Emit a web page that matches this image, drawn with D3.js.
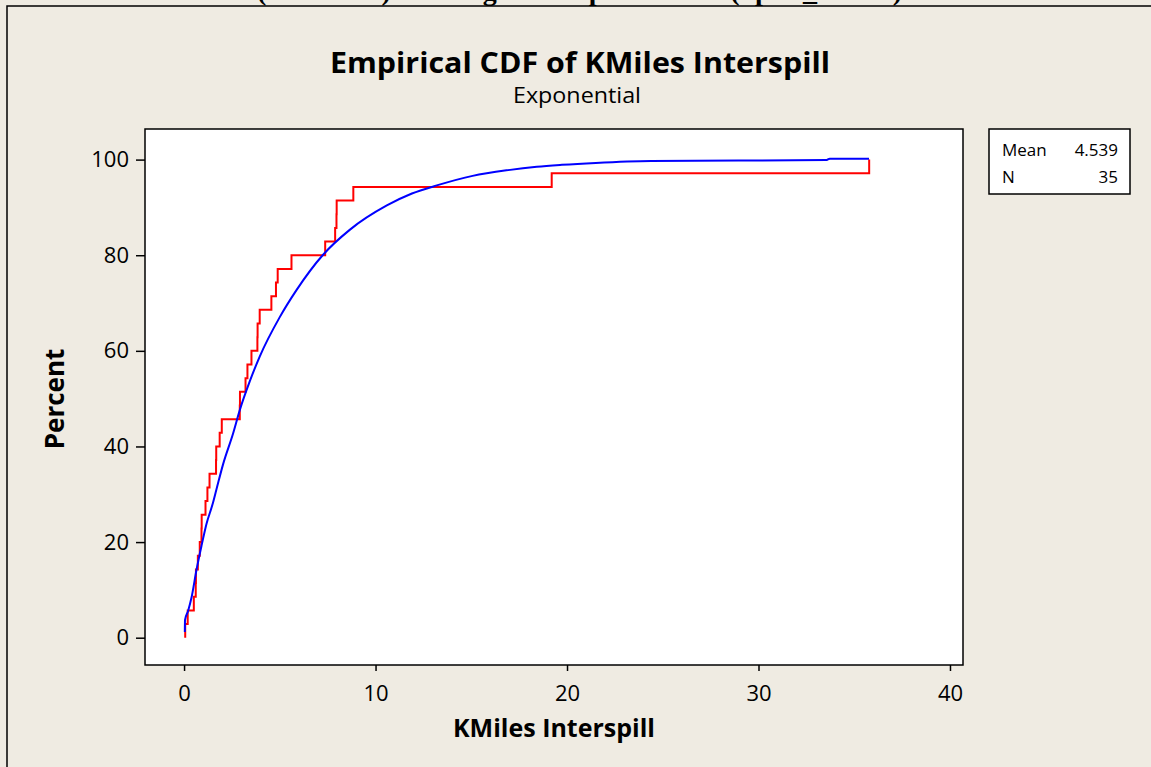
<!DOCTYPE html>
<html>
<head>
<meta charset="utf-8">
<script src="https://cdn.jsdelivr.net/npm/d3@7"></script>
<style>
  html, body { margin: 0; padding: 0; background: #efebe2; }
  svg { display: block; }
  .tick text { font-family: "Open Sans", sans-serif; fill: #000; }
</style>
</head>
<body>
<div id="chart"><svg width="1151" height="767"></svg></div>
<script>
// sorted sample values (KMiles)
var sampleKMiles = [0.06, 0.19, 0.51, 0.61, 0.62, 0.72, 0.82, 0.91, 0.92, 1.12,
  1.22, 1.33, 1.67, 1.68, 1.86, 1.97, 2.91, 2.92, 3.21, 3.31,
  3.52, 3.83, 3.84, 3.95, 4.56, 4.80, 4.89, 5.61, 7.37, 7.89,
  7.96, 7.97, 8.84, 19.2, 35.78];

// fitted exponential curve
var fitX = [0.04, 0.05, 0.21, 0.39, 0.65, 0.91, 1.17, 1.48, 1.69, 2.04,
  2.56, 2.91, 3.43, 3.95, 4.99, 5.87, 7.26, 8.65, 10.59,
  11.90, 13.20, 15.07, 16.93, 18.42, 19.73, 21.50, 24.39, 33.53, 33.72, 35.77];
var fitPercent = [1.2, 3.7, 5.6, 8.4, 14.2, 19.2, 23.8, 27.8, 31.0, 36.3,
  42.7, 47.6, 53.6, 58.8, 67.0, 72.7, 80.1, 85.3, 90.4,
  92.9, 94.6, 96.6, 97.8, 98.5, 98.9, 99.3, 99.7, 99.9, 100.2, 100.2];

var xTicks = [0, 10, 20, 30, 40];
var yTicks = [0, 20, 40, 60, 80, 100];
var legendLabels = ["Mean", "N"];
var legendValues = ["4.539", "35"];

var margin = { top: 129, right: 188, bottom: 102, left: 145 };
var width = 1151, height = 767;
var svg, x, y;

function initSvg() {
    svg = d3.select('#chart svg');
    // page heading cut off at the top of the screenshot
    svg.append('text')
        .attr('x', 257).attr('y', 0)
        .attr('textLength', 645).attr('lengthAdjust', 'spacing')
        .style('font-family', '"Liberation Serif", serif')
        .style('font-weight', 'bold').style('font-size', '28px')
        .text('(Model 2) Fitting an Exponential (spill_miles)');
    svg.append('rect')
        .attr('x', 7).attr('y', 6)
        .attr('width', 1200).attr('height', 800)
        .attr('fill', '#efebe2').attr('stroke', '#000').attr('stroke-width', 1.5);
}

function initAxis() {
    x = d3.scaleLinear().domain([-2.04, 40.68]).range([margin.left, width - margin.right]);
    y = d3.scaleLinear().domain([-5.71, 106.4]).range([height - margin.bottom, margin.top]);
}

function drawFrame() {
    svg.append('rect')
        .attr('x', margin.left).attr('y', margin.top)
        .attr('width', width - margin.right - margin.left)
        .attr('height', height - margin.bottom - margin.top)
        .attr('fill', '#fff');
}

function drawAxis() {
    var gx = svg.append('g')
        .attr('class', 'axis axis--x')
        .attr('transform', 'translate(0,' + (height - margin.bottom) + ')')
        .call(d3.axisBottom(x).tickValues(xTicks).tickSize(6).tickPadding(14));
    var gy = svg.append('g')
        .attr('class', 'axis axis--y')
        .attr('transform', 'translate(' + margin.left + ',0)')
        .call(d3.axisLeft(y).tickValues(yTicks).tickSize(9).tickPadding(7));
    [gx, gy].forEach(function (g) {
        g.select('.domain').remove();
        g.selectAll('.tick line').attr('stroke', '#000').attr('stroke-width', 1.5);
        g.selectAll('.tick text').style('font-size', '22px');
    });

    svg.append('text')
        .attr('x', (x.range()[0] + x.range()[1]) / 2).attr('y', 737)
        .attr('text-anchor', 'middle')
        .style('font-family', '"Open Sans", sans-serif')
        .style('font-weight', 'bold').style('font-size', '25px')
        .text('KMiles Interspill');
    svg.append('text')
        .attr('transform', 'translate(64,399) rotate(-90)')
        .attr('text-anchor', 'middle')
        .style('font-family', '"Open Sans", sans-serif')
        .style('font-weight', 'bold').style('font-size', '26px')
        .text('Percent');
}

function drawLines() {
    var n = sampleKMiles.length;
    var steps = [[sampleKMiles[0], 0]].concat(sampleKMiles.map(function (v, i) {
        return [v, (i + 1) / n * 100];
    }));
    var step = d3.line()
        .x(function (d) { return x(d[0]); })
        .y(function (d) { return y(d[1]); })
        .curve(d3.curveStepAfter);
    svg.append('path')
        .datum(steps)
        .attr('fill', 'none')
        .attr('stroke', '#ff0000')
        .attr('stroke-width', 2)
        .attr('d', step);

    var line = d3.line()
        .x(function (d) { return x(d); })
        .y(function (d, i) { return y(fitPercent[i]); })
        .curve(d3.curveMonotoneX);
    svg.append('path')
        .datum(fitX)
        .attr('fill', 'none')
        .attr('stroke', '#0000ff')
        .attr('stroke-width', 2)
        .attr('stroke-linejoin', 'round')
        .attr('d', line);

    // plot border on top
    svg.append('rect')
        .attr('x', margin.left).attr('y', margin.top)
        .attr('width', width - margin.right - margin.left)
        .attr('height', height - margin.bottom - margin.top)
        .attr('fill', 'none').attr('stroke', '#000').attr('stroke-width', 1.5);
}

function drawTitles() {
    svg.append('text')
        .attr('x', 580).attr('y', 73)
        .attr('text-anchor', 'middle')
        .attr('textLength', 500).attr('lengthAdjust', 'spacingAndGlyphs')
        .style('font-family', '"Open Sans", sans-serif')
        .style('font-weight', 'bold').style('font-size', '28px')
        .text('Empirical CDF of KMiles Interspill');
    svg.append('text')
        .attr('x', 577).attr('y', 103)
        .attr('text-anchor', 'middle')
        .attr('textLength', 128).attr('lengthAdjust', 'spacingAndGlyphs')
        .style('font-family', '"Open Sans", sans-serif')
        .style('font-size', '22px')
        .text('Exponential');
}

function drawLegend() {
    var g = svg.append('g').attr('transform', 'translate(989,129)');
    g.append('rect')
        .attr('width', 141).attr('height', 65)
        .attr('fill', '#fff').attr('stroke', '#000').attr('stroke-width', 1.5);
    legendLabels.forEach(function (lab, i) {
        g.append('text')
            .attr('x', 13).attr('y', 27 + i * 27)
            .style('font-family', '"Open Sans", sans-serif').style('font-size', '17px')
            .text(lab);
        g.append('text')
            .attr('x', 129).attr('y', 27 + i * 27)
            .attr('text-anchor', 'end')
            .style('font-family', '"Open Sans", sans-serif').style('font-size', '17px')
            .text(legendValues[i]);
    });
}

initSvg();
initAxis();
drawFrame();
drawAxis();
drawLines();
drawTitles();
drawLegend();
</script>
</body>
</html>
